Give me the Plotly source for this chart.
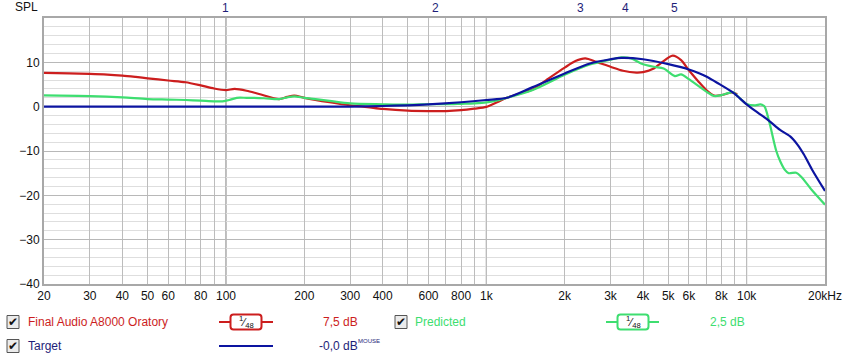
import math
import plotly.graph_objects as go

# ---------------- data ----------------
red_freq = [20, 25, 30, 35, 40, 45, 50, 60, 70, 80, 90, 100, 108, 120, 134, 160, 172, 183, 200, 250,
            300, 350, 400, 500, 600, 700, 800, 900, 1000, 1100, 1200, 1350, 1500, 1700, 2000, 2200,
            2400, 2650, 3000, 3350, 3770, 4000, 4400, 4700, 5200, 5600, 6000, 6500, 7000, 7500, 8000,
            8800, 9200]
red_db = [7.6, 7.5, 7.4, 7.25, 7.0, 6.7, 6.4, 5.9, 5.5, 4.8, 4.1, 3.75, 4.0, 3.6, 2.85, 1.7, 2.2, 2.5,
          2.0, 1.0, 0.3, -0.1, -0.5, -0.9, -1.0, -1.0, -0.8, -0.45, -0.05, 1.0, 2.0, 3.0, 3.8, 6.0, 8.8,
          10.3, 10.9, 10.1, 9.0, 8.1, 7.7, 7.8, 8.6, 9.9, 11.5, 10.5, 8.2, 5.8, 3.75, 2.5, 2.6, 3.2, 2.8]

green_freq = [20, 30, 40, 50, 60, 70, 80, 90, 97, 103, 110, 120, 140, 160, 172, 183, 200, 250, 300, 400,
              500, 600, 700, 800, 900, 1000, 1100, 1200, 1500, 2000, 2500, 3000, 3300, 3600, 3930, 4400,
              4800, 5300, 5600, 6000, 7000, 7500, 8000, 8800, 9000, 10000, 10800, 11300, 11700, 12200,
              13000, 13500, 14000, 14500, 15500, 16200, 17800, 20000]
green_db = [2.55, 2.4, 2.1, 1.7, 1.6, 1.5, 1.35, 1.2, 1.2, 1.5, 2.0, 2.0, 1.9, 1.7, 2.1, 2.3, 2.0, 1.3,
            0.75, 0.55, 0.45, 0.55, 0.55, 0.65, 0.75, 0.95, 1.4, 2.0, 3.7, 7.2, 9.5, 10.6, 11.1, 10.9,
            9.75, 9.0, 8.6, 6.9, 7.3, 6.2, 3.4, 2.4, 2.6, 3.3, 3.0, 0.6, 0.3, 0.5, 0.1, -3.3, -10.0,
            -12.5, -14.2, -15.0, -14.9, -15.8, -18.8, -22.1]

blue_freq = [20, 100, 200, 300, 400, 500, 600, 800, 1000, 1200, 1500, 2000, 2500, 3000, 3300, 4000, 5000,
             6000, 6600, 7000, 7700, 8900, 10000, 11000, 12200, 13400, 14700, 15700, 16600, 17800, 20000]
blue_db = [0, 0, 0, 0, 0.15, 0.3, 0.5, 1.0, 1.5, 2.0, 4.35, 7.5, 9.75, 10.7, 11.0, 10.7, 9.6, 8.4, 7.5,
           6.8, 5.4, 3.1, 0.5, -1.3, -3.2, -5.2, -6.7, -8.6, -10.8, -14.1, -19.0]

x_grid = [20, 30, 40, 50, 60, 70, 80, 90, 100, 200, 300, 400, 500, 600, 700, 800, 900, 1000,
          2000, 3000, 4000, 5000, 6000, 7000, 8000, 9000, 10000, 20000]
x_labels = ["20", "30", "40", "50", "60", "", "80", "", "100", "200", "300", "400", "", "600", "",
            "800", "", "1k", "2k", "3k", "4k", "5k", "6k", "", "8k", "", "10k", "20kHz"]
decades = [100, 1000, 10000]
y_ticks = [-40, -30, -20, -10, 0, 10]

marker_freqs = [100, 638, 2305, 3412, 5297]
marker_labels = ["1", "2", "3", "4", "5"]

RED = "rgb(204,30,30)"
GREEN = "rgb(62,222,112)"
BLUE = "rgb(12,20,160)"
NAVY = "rgb(30,30,120)"
FONT = "Liberation Sans, Arial, sans-serif"

W, H = 846, 360
L, R, T, B = 44, 21, 18, 76
PW, PH = W - L - R, H - T - B


def px(x):
    return (x - L) / PW


def py(y):
    return (H - B - y) / PH


fig = go.Figure()
fig.add_trace(go.Scatter(x=red_freq, y=red_db, mode="lines",
                         line=dict(color=RED, width=2.2, shape="spline", smoothing=0.8)))
fig.add_trace(go.Scatter(x=green_freq, y=green_db, mode="lines",
                         line=dict(color=GREEN, width=2.2, shape="spline", smoothing=0.8)))
fig.add_trace(go.Scatter(x=blue_freq, y=blue_db, mode="lines",
                         line=dict(color=BLUE, width=2.2, shape="spline", smoothing=0.8)))

shapes = []
for d in decades:
    shapes.append(dict(type="line", xref="x", yref="paper", x0=d, x1=d, y0=0, y1=1,
                       line=dict(color="#7d7d7d", width=1), layer="below"))


def checkbox(x, y):
    shapes.append(dict(type="rect", xref="paper", yref="paper", x0=px(x), x1=px(x + 12),
                       y0=py(y + 6.5), y1=py(y - 6.5), line=dict(color="#555555", width=1),
                       fillcolor="#ebebeb"))


def rrect(xc, yc, w, h, color):
    x0, x1 = px(xc - w / 2), px(xc + w / 2)
    y0, y1 = py(yc + h / 2), py(yc - h / 2)
    rx, ry = 3 / PW, 3 / PH
    path = (f"M {x0+rx},{y0} L {x1-rx},{y0} Q {x1},{y0} {x1},{y0+ry} L {x1},{y1-ry} "
            f"Q {x1},{y1} {x1-rx},{y1} L {x0+rx},{y1} Q {x0},{y1} {x0},{y1-ry} "
            f"L {x0},{y0+ry} Q {x0},{y0} {x0+rx},{y0} Z")
    shapes.append(dict(type="path", xref="paper", yref="paper", path=path,
                       line=dict(color=color, width=2), fillcolor="white"))


def hline(x0, x1, y, color):
    shapes.append(dict(type="line", xref="paper", yref="paper", x0=px(x0), x1=px(x1),
                       y0=py(y), y1=py(y), line=dict(color=color, width=2)))


annotations = []


def text(x, y, s, color, size=12, anchor="left"):
    annotations.append(dict(x=px(x), y=py(y), xref="paper", yref="paper", text=s, showarrow=False,
                            xanchor=anchor, yanchor="middle",
                            font=dict(family=FONT, size=size, color=color)))


# legend row 1
checkbox(7, 322)
text(13, 322, "✔", "#111", 12, "center")
text(26, 322, "Final Audio A8000 Oratory", RED)
hline(219, 273, 322, RED)
rrect(246, 322, 31, 15, RED)
text(246, 322, "<sup>1</sup>⁄<sub>48</sub>", "#111", 11, "center")
text(321, 322, "7,5 dB", RED)
checkbox(395, 322)
text(401, 322, "✔", "#111", 12, "center")
text(413, 322, "Predicted", GREEN)
hline(606, 659, 322, GREEN)
rrect(633, 322, 31, 15, GREEN)
text(633, 322, "<sup>1</sup>⁄<sub>48</sub>", "#111", 11, "center")
text(708, 322, "2,5 dB", GREEN)
# legend row 2
checkbox(7, 346)
text(13, 346, "✔", "#111", 12, "center")
text(26, 346, "Target", NAVY)
hline(219, 273, 346, BLUE)
text(317, 346, "-0,0 dB", NAVY)
text(356, 341, "MOUSE", NAVY, 6)

# axis title and top markers
text(40, 7, "SPL", "#111", 12, "right")
for f, lab in zip(marker_freqs, marker_labels):
    annotations.append(dict(x=math.log10(f), y=py(8), xref="x", yref="paper", text=lab,
                            showarrow=False, xanchor="center", yanchor="middle",
                            font=dict(family=FONT, size=12, color=NAVY)))

fig.update_layout(
    width=W, height=H, margin=dict(l=L, r=R, t=T, b=B, autoexpand=False),
    paper_bgcolor="white", plot_bgcolor="white", showlegend=False,
    shapes=shapes, annotations=annotations,
    xaxis=dict(type="log", range=[math.log10(20), math.log10(20000)], tickvals=x_grid,
               ticktext=x_labels, showgrid=True, gridcolor="#bcbcbc", gridwidth=1,
               zeroline=False, showline=True, linecolor="#a8a8a8", linewidth=2, mirror=True,
               ticks="", automargin=False, tickfont=dict(family=FONT, size=12, color="#111")),
    yaxis=dict(range=[-40, 20], tickvals=y_ticks, showgrid=True, gridcolor="#b8b8b8",
               gridwidth=1, zeroline=False, showline=True, linecolor="#a8a8a8", linewidth=2,
               mirror=True, ticks="", automargin=False,
               tickfont=dict(family=FONT, size=12, color="#111"),
               minor=dict(dtick=2, showgrid=True, gridcolor="#dedede", gridwidth=1)),
)

# remove the browser's default 8px body margin so the figure sits at the page origin
fig.write_html("out.html", config={"displayModeBar": False},
               post_script="document.body.style.margin='0';")
